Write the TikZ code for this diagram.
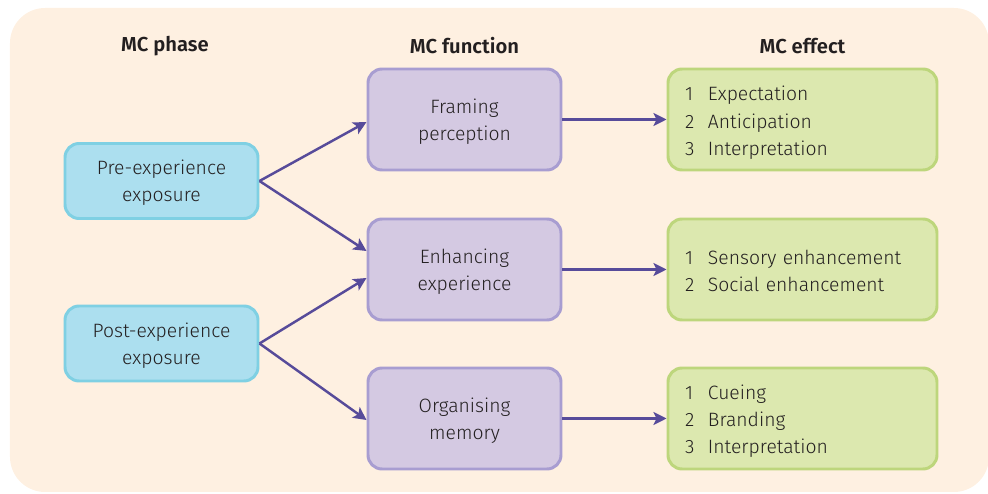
\documentclass[tikz,border=0pt]{standalone}
\usepackage{fontspec}
\setmainfont{Fira Sans Light}[BoldFont={Fira Sans SemiBold}]
\usetikzlibrary{arrows.meta, positioning, calc}
\definecolor{cpaper}{HTML}{FEF0E1}
\definecolor{cblue}{HTML}{ACDFEF}
\definecolor{cbluel}{HTML}{7FD0E3}
\definecolor{cpurple}{HTML}{D4C9E2}
\definecolor{cpurplel}{HTML}{A89DD1}
\definecolor{cgreen}{HTML}{DCE8AF}
\definecolor{cgreenl}{HTML}{BDD67C}
\definecolor{carrow}{HTML}{574B9A}
\definecolor{ctext}{HTML}{231F20}
\newcommand\mcitem[2]{\makebox[0.46cm][l]{#1}#2}
\tikzset{
  every picture/.style={font=\fontsize{11}{15.4}\selectfont, text=ctext},
  box/.style={draw=#1l, fill=#1, line width=1.7pt, rounded corners=8pt, align=center, inner sep=4pt},
  phase/.style={box=cblue, minimum width=3.86cm, minimum height=1.5cm, text depth=-0.6pt},
  func/.style={box=cpurple, minimum width=3.86cm, minimum height=2.02cm, text depth=-0.6pt},
  effect/.style={box=cgreen, minimum width=5.38cm, minimum height=2.02cm, align=left, text width=4.7cm, text depth=#1},
  head/.style={font=\bfseries\fontsize{11.5}{14}\selectfont},
  arrow/.style={-{Stealth[length=2.6mm, width=2.6mm, inset=0.6mm]}, draw=carrow, line width=1.4pt},
}

\begin{document}
\begin{tikzpicture}
  \useasboundingbox (0,0) rectangle (19.76,-9.88);
  \clip (0,0) rectangle (19.76,-9.88);
  \fill[cpaper, rounded corners=20pt] (0.2,-0.16) rectangle (19.78,-9.84);
  % column heads
  \node[head] (hphase) at (3.3,-0.92) {MC phase};
  \node[head] (hfunc) at (9.29,-0.92) {MC function};
  \node[head] (heff) at (16.05,-0.92) {MC effect};
  % phases
  \node[phase] (pre) at (3.23,-3.62) {Pre-experience\\exposure};
  \node[phase] (post) at (3.23,-6.87) {Post-experience\\exposure};
  % functions
  \node[func] (framing) at (9.29,-2.39) {Framing\\perception};
  \node[func] (enhancing) at (9.29,-5.39) {Enhancing\\experience};
  \node[func] (organising) at (9.29,-8.37) {Organising\\memory};
  % effects
  \node[effect=29.4pt] (eff1) at (16.05,-2.39) {\mcitem{1}{Expectation}\\\mcitem{2}{Anticipation}\\\mcitem{3}{Interpretation}};
  \node[effect=14.4pt] (eff2) at (16.05,-5.39) {\mcitem{1}{Sensory enhancement}\\\mcitem{2}{Social enhancement}};
  \node[effect=29.8pt] (eff3) at (16.05,-8.37) {\mcitem{1}{Cueing}\\\mcitem{2}{Branding}\\\mcitem{3}{Interpretation}};
  % links
  \draw[arrow] (pre.east) -- ($(framing.west)+(0,-0.05)$);
  \draw[arrow] (pre.east) -- ($(enhancing.west)+(0,0.37)$);
  \draw[arrow] (post.east) -- ($(enhancing.west)+(0,-0.17)$);
  \draw[arrow] (post.east) -- ($(organising.west)+(0,-0.03)$);
  \foreach \f/\e in {framing/eff1, enhancing/eff2, organising/eff3}
    \draw[arrow] (\f.east) -- (\e.west);
\end{tikzpicture}
\end{document}
